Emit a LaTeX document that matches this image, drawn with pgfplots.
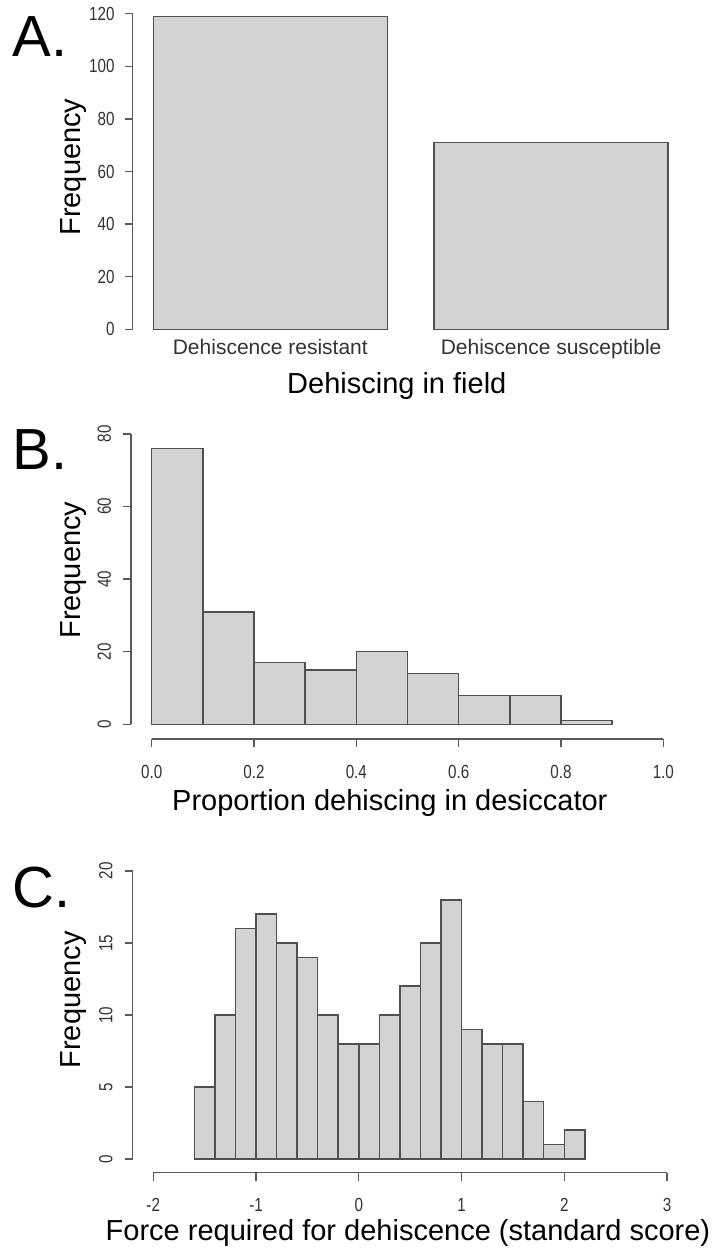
\documentclass[border=0pt]{standalone}
\usepackage{fontspec}
\setmainfont{Liberation Sans}
\newfontfamily\tickfont{Liberation Sans}[FakeStretch=0.8]
\usepackage{pgfplots}
\pgfplotsset{compat=1.18}

\definecolor{barfill}{RGB}{211,211,211}
\definecolor{barline}{RGB}{80,80,80}
\definecolor{axgray}{RGB}{90,90,90}

\pgfplotsset{
  rpanel/.style={
    scale only axis, clip=false,
    axis x line*=bottom, axis y line*=left,
    axis line style={draw=none},
    tick align=outside,
    major tick length=4pt,
    tick style={axgray, line width=0.7pt},
    ticklabel style={font=\tickfont\fontsize{9.5}{10}\selectfont, text=black!80, inner sep=0pt},
    label style={font=\fontsize{14.5}{16}\selectfont, inner sep=0pt, anchor=center},
  },
  hbar/.style={fill=barfill, draw=barline, line width=0.75pt},
  axline/.style={draw=axgray, line width=0.75pt},
}

\begin{document}
\begin{tikzpicture}
\useasboundingbox (0,0) rectangle (359.5pt,-625.5pt);

% Panel A: counts per field category
\begin{axis}[rpanel,
  at={(66.35pt,-170.95pt)}, anchor=south west,
  width=278pt, height=170.4pt,
  xmin=0.112, xmax=2.488, ymin=-4.8, ymax=124.8,
  ytick={0,20,40,60,80,100,120},
  yticklabels={0,20,40,60,80,100,120},
  yticklabel style={anchor=east, xshift=-4.85pt},
  xtick={0.7,1.9},
  xticklabels={Dehiscence resistant, Dehiscence susceptible},
  x tick style={draw=none},
  xticklabel style={font=\fontsize{10.5}{12}\selectfont, anchor=base, yshift=-2.5pt},
  xlabel={Dehiscing in field}, ylabel={Frequency},
  xlabel style={at={(axis description cs:0.475,-0.129)}},
  ylabel style={at={(axis description cs:-0.1056,0.513)}},
]
\addplot[hbar, ybar, bar width=1, bar shift=0] coordinates {(0.7,119) (1.9,71)};
\addplot[axline] coordinates {(0.112,0) (0.112,120)};
\end{axis}

% Panel B: histogram of desiccator proportions
\begin{axis}[rpanel,
  at={(65.6pt,-369.4pt)}, anchor=south west,
  width=276.3pt, height=159.7pt,
  xmin=-0.04, xmax=1.04, ymin=-4, ymax=84,
  ytick={0,20,40,60,80},
  yticklabels={0,20,40,60,80},
  yticklabel style={xshift=-9.4pt, rotate=90, anchor=center},
  xtick={0,0.2,0.4,0.6,0.8,1.0},
  xticklabels={0.0,0.2,0.4,0.6,0.8,1.0},
  xticklabel style={anchor=center, yshift=-12.5pt},
  xlabel={Proportion dehiscing in desiccator}, ylabel={Frequency},
  xlabel style={at={(axis description cs:0.468,-0.201)}},
  ylabel style={at={(axis description cs:-0.105,0.528)}},
]
\addplot[hbar, ybar, bar width=0.1, bar shift=0] coordinates {
  (0.05,76) (0.15,31) (0.25,17) (0.35,15) (0.45,20)
  (0.55,14) (0.65,8) (0.75,8) (0.85,1)};
\addplot[axline] coordinates {(0,-4) (1,-4)};
\addplot[axline] coordinates {(-0.04,0) (-0.04,80)};
\end{axis}

% Panel C: histogram of standardised force
\begin{axis}[rpanel,
  at={(66.35pt,-586.35pt)}, anchor=south west,
  width=277.45pt, height=157.7pt,
  xmin=-2.2, xmax=3.2, ymin=-0.95, ymax=20.95,
  ytick={0,5,10,15,20},
  yticklabels={0,5,10,15,20},
  yticklabel style={xshift=-9.4pt, rotate=90, anchor=center},
  xtick={-2,-1,0,1,2,3},
  xticklabels={-2,-1,0,1,2,3},
  xticklabel style={anchor=center, yshift=-12.2pt},
  xlabel={Force required for dehiscence (standard score)}, ylabel={Frequency},
  xlabel style={at={(axis description cs:0.496,-0.191)}},
  ylabel style={at={(axis description cs:-0.106,0.548)}},
]
\addplot[hbar, ybar, bar width=0.2, bar shift=0] coordinates {
  (-1.5,5) (-1.3,10) (-1.1,16) (-0.9,17) (-0.7,15) (-0.5,14) (-0.3,10)
  (-0.1,8) (0.1,8) (0.3,10) (0.5,12) (0.7,15) (0.9,18) (1.1,9)
  (1.3,8) (1.5,8) (1.7,4) (1.9,1) (2.1,2)};
\addplot[axline] coordinates {(-2,-0.95) (3,-0.95)};
\addplot[axline] coordinates {(-2.2,0) (-2.2,20)};
\end{axis}

% panel letters
\node[anchor=west, inner sep=0pt, font=\fontsize{29}{32}\selectfont] at (6pt,-18.5pt) {A.};
\node[anchor=west, inner sep=0pt, font=\fontsize{29}{32}\selectfont] at (6pt,-225pt) {B.};
\node[anchor=west, inner sep=0pt, font=\fontsize{29}{32}\selectfont] at (6pt,-444pt) {C.};
\end{tikzpicture}
\end{document}
